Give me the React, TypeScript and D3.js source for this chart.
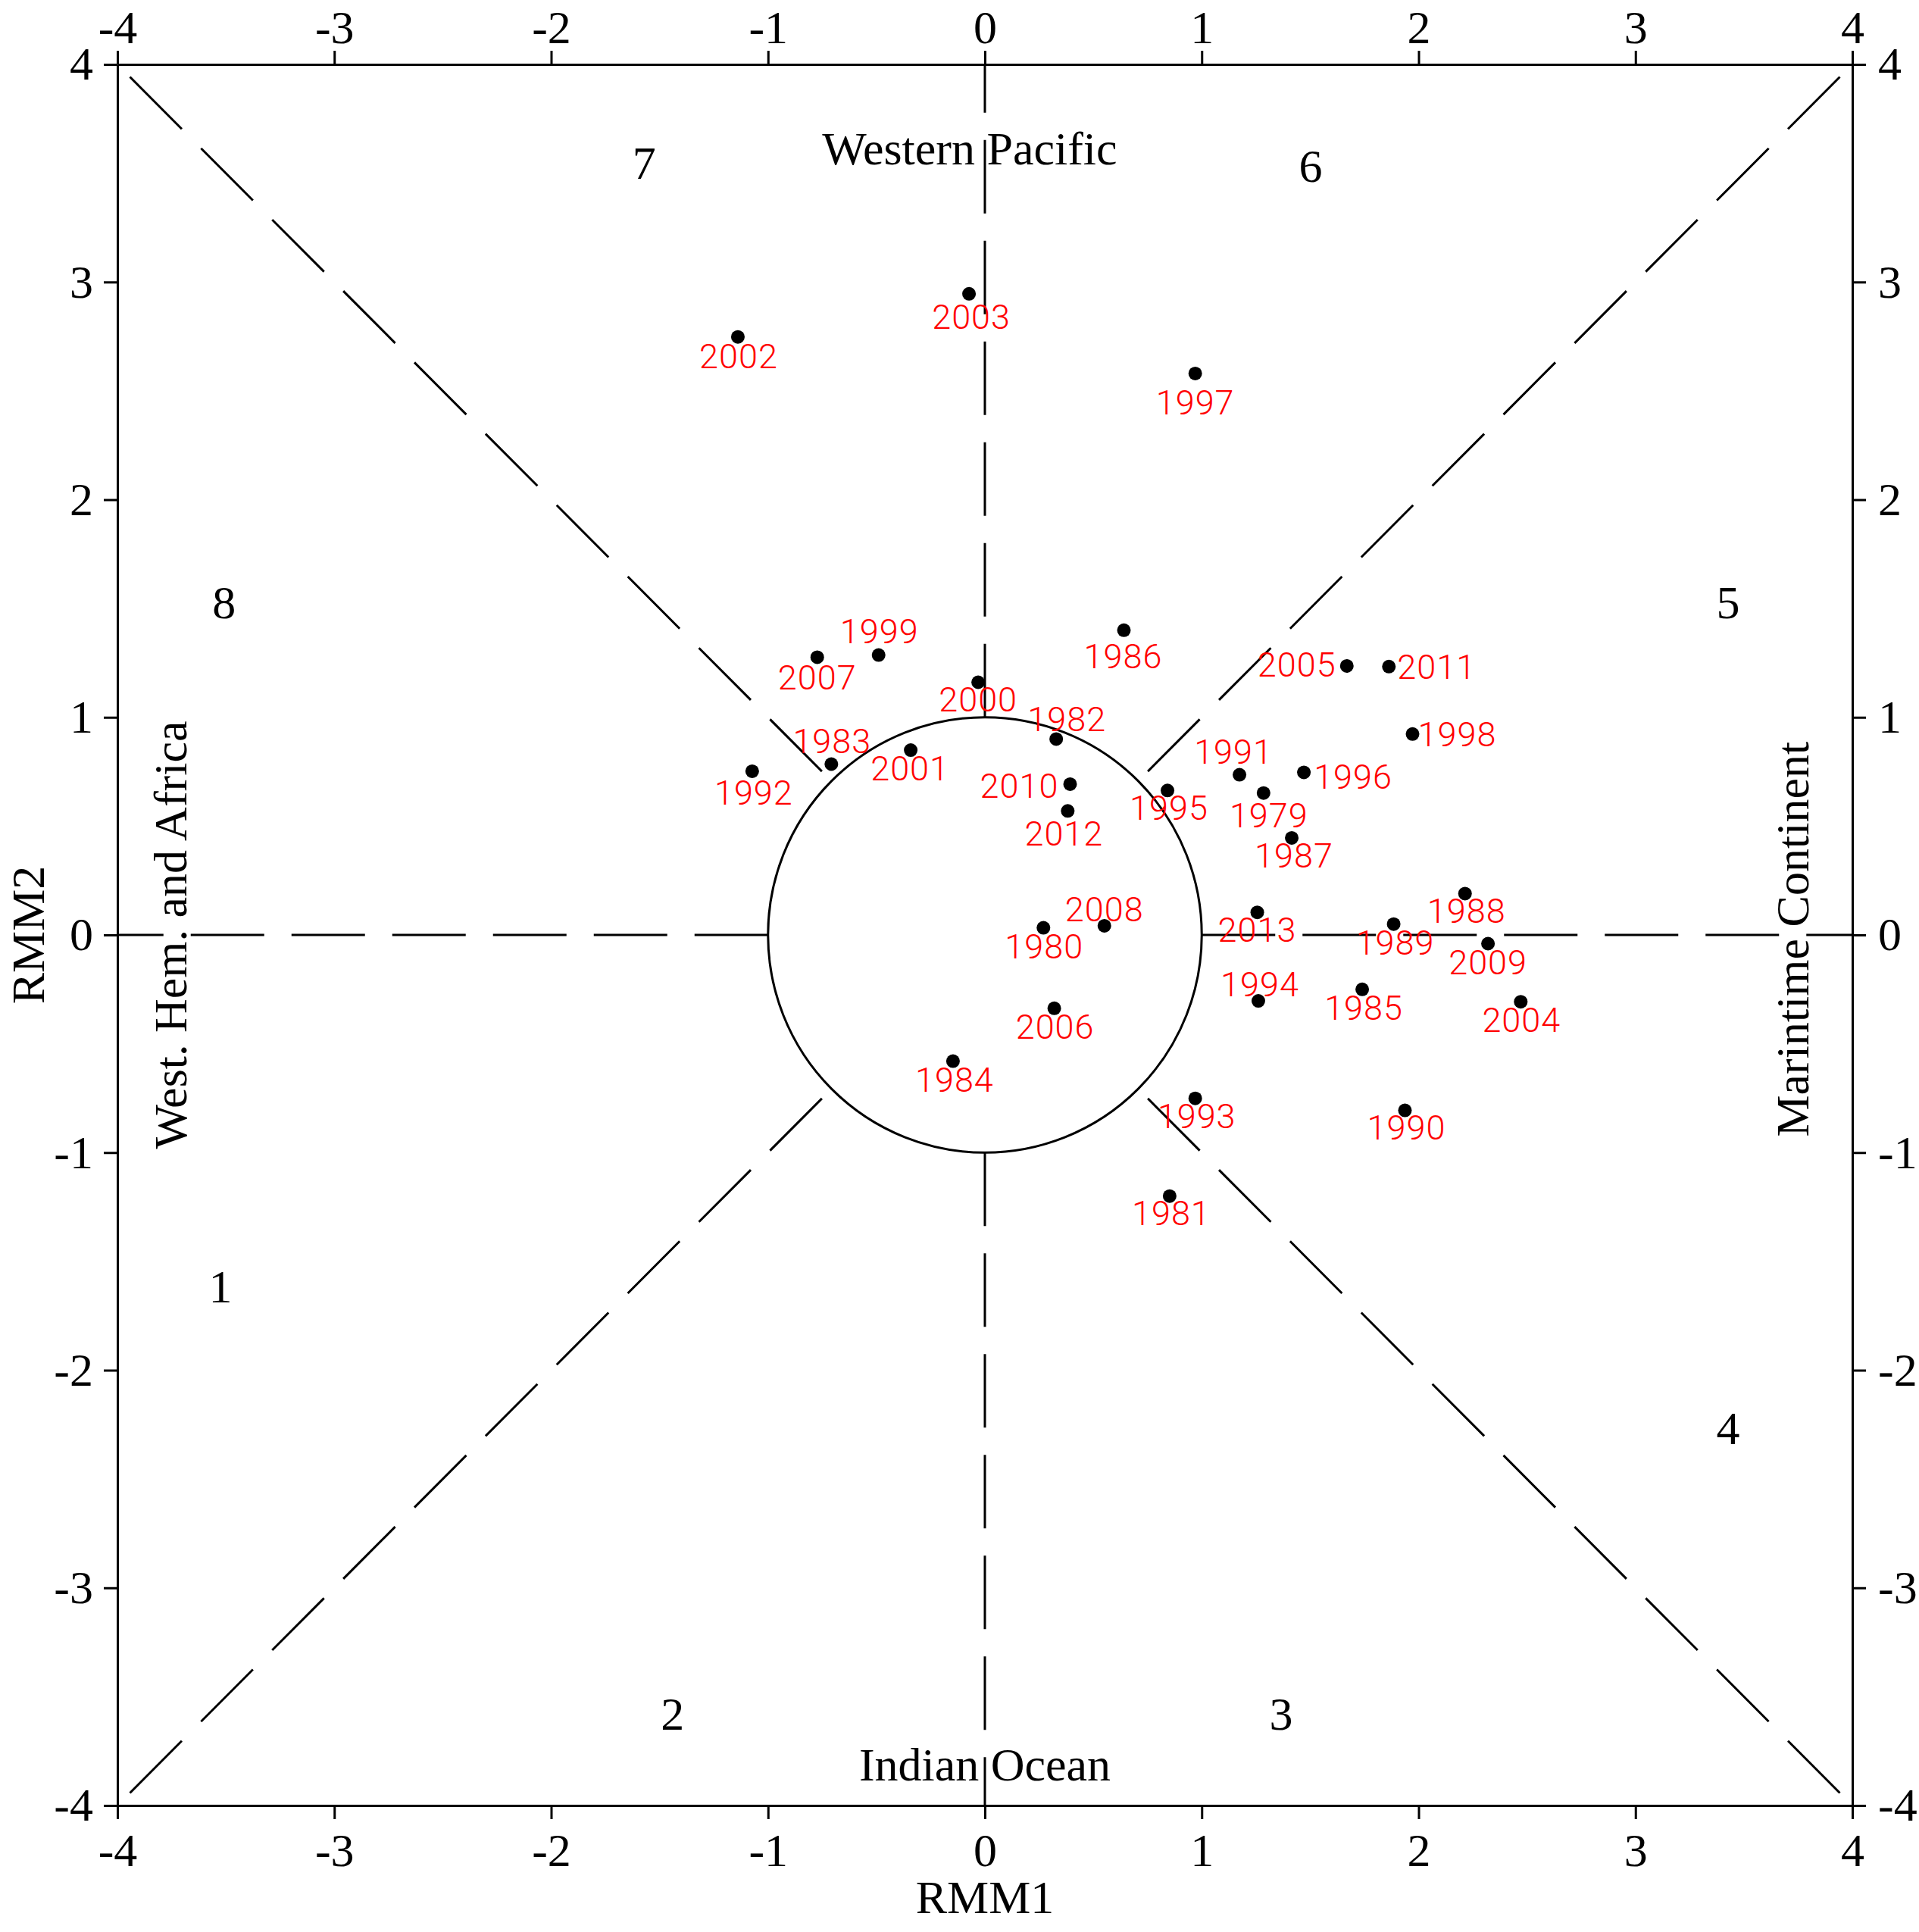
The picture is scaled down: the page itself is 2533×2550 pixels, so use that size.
import { useEffect, useRef } from 'react';
import * as d3 from 'd3';

// RMM index per year (RMM1, RMM2)
const years = [1979, 1980, 1981, 1982, 1983, 1984, 1985, 1986, 1987, 1988, 1989, 1990, 1991, 1992, 1993, 1994, 1995,
  1996, 1997, 1998, 1999, 2000, 2001, 2002, 2003, 2004, 2005, 2006, 2007, 2008, 2009, 2010, 2011, 2012, 2013];
const rmm1 = [1.285, 0.27, 0.852, 0.329, -0.708, -0.147, 1.74, 0.641, 1.415, 2.214, 1.885, 1.937, 1.174, -1.073, 0.97,
  1.261, 0.842, 1.471, 0.97, 1.972, -0.49, -0.031, -0.342, -1.139, -0.073, 2.471, 1.669, 0.32, -0.773, 0.551, 2.32,
  0.393, 1.863, 0.382, 1.256];
const rmm2 = [0.652, 0.033, -1.2, 0.9, 0.785, -0.58, -0.25, 1.4, 0.446, 0.19, 0.05, -0.806, 0.736, 0.752, -0.751,
  -0.303, 0.664, 0.747, 2.58, 0.923, 1.286, 1.161, 0.849, 2.748, 2.946, -0.307, 1.236, -0.337, 1.276, 0.042, -0.04,
  0.693, 1.233, 0.57, 0.104];

// label nudges (px) so year labels don't sit on top of each other
const labelDx = [7, 1, 2, 14, 1, 2, 2, -1, 3, 2, 2, 2, -8, 2, 2, 2, 2, 65, 0, 59, 1, 0, -1, 1, 3, 1, -66, 1, 0, 0, 0, -67, 63, -5, 0];
const labelDy = [30, 25, 23, -26, -30, 25, 24, 34, 23, 23, 25, 23, -30, 28, 24, -22, 23, 6, 38, 0, -31, 23, 24, 26, 30, 24, -2, 24, 27, -22, 25, 2, 0, 30, 23];

const ticks = [-4, -3, -2, -1, 0, 1, 2, 3, 4];

// phase numbers and where they sit
const phases = ['1', '2', '3', '4', '5', '6', '7', '8'];
const phaseX = [-3.525, -1.44, 1.366, 3.427, 3.427, 1.502, -1.571, -3.508];
const phaseY = [-1.616, -3.581, -3.581, -2.267, 1.525, 3.53, 3.547, 1.525];

const regions = ['Western Pacific', 'Indian Ocean', 'West. Hem. and Africa', 'Marintime Continent'];
const regionX = [-0.07, 0, -3.752, 3.727];
const regionY = [3.612, -3.813, 0, -0.02];
const regionRotate = [0, 0, -90, -90];

const W = 2533;
const H = 2550;
const serif = '"Liberation Serif", "Times New Roman", Times, serif';

const App = () => {
  const svgRef = useRef(null);

  useEffect(() => {
    if (!svgRef.current) return;
    const svg = d3.select(svgRef.current);
    svg.selectAll('*').remove();

    const x = d3.scaleLinear().domain([-4, 4]).range([155, 2445]);
    const y = d3.scaleLinear().domain([-4, 4]).range([2383, 85]);
    const fmt = (d) => String(d);

    const styleAxis = (g) => {
      g.selectAll('path').attr('stroke', '#000').attr('stroke-width', 3);
      g.selectAll('line').attr('stroke', '#000').attr('stroke-width', 3);
      g.selectAll('text').attr('font-family', serif).attr('font-size', 62).attr('fill', '#000');
    };

    svg.append('g').attr('transform', `translate(0,${y(-4)})`)
      .call(d3.axisBottom(x).tickValues(ticks).tickFormat(fmt).tickSize(18).tickSizeOuter(0).tickPadding(18))
      .call(styleAxis);
    svg.append('g').attr('transform', `translate(0,${y(4)})`)
      .call(d3.axisTop(x).tickValues(ticks).tickFormat(fmt).tickSize(18).tickSizeOuter(0).tickPadding(10))
      .call(styleAxis);
    svg.append('g').attr('transform', `translate(${x(-4)},0)`)
      .call(d3.axisLeft(y).tickValues(ticks).tickFormat(fmt).tickSize(18).tickSizeOuter(0).tickPadding(14))
      .call(styleAxis);
    svg.append('g').attr('transform', `translate(${x(4)},0)`)
      .call(d3.axisRight(y).tickValues(ticks).tickFormat(fmt).tickSize(18).tickSizeOuter(0).tickPadding(16))
      .call(styleAxis);

    // axis titles
    svg.append('text')
      .attr('x', x(0)).attr('y', 2525)
      .attr('text-anchor', 'middle')
      .attr('font-family', serif).attr('font-size', 62)
      .text('RMM1');
    svg.append('text')
      .attr('transform', `translate(58,${y(0)}) rotate(-90)`)
      .attr('text-anchor', 'middle')
      .attr('font-family', serif).attr('font-size', 62)
      .text('RMM2');

    // unit circle
    svg.append('ellipse')
      .attr('cx', x(0)).attr('cy', y(0))
      .attr('rx', x(1) - x(0)).attr('ry', y(0) - y(1))
      .attr('fill', 'none').attr('stroke', '#000').attr('stroke-width', 3);

    // phase dividers
    const line = d3.line().x(d => x(d[0])).y(d => y(d[1]));
    const c = Math.SQRT1_2;
    const straight = [[[1, 0], [4, 0]], [[-1, 0], [-4, 0]], [[0, 1], [0, 4]], [[0, -1], [0, -4]]];
    const diag = [[[c, c], [4, 4]], [[-c, c], [-4, 4]], [[c, -c], [4, -4]], [[-c, -c], [-4, -4]]];
    const dividers = svg.append('g').attr('fill', 'none').attr('stroke', '#000').attr('stroke-width', 3)
      .attr('stroke-dasharray', '97 36');
    dividers.selectAll('path.s').data(straight).join('path').attr('class', 's').attr('d', line);
    dividers.selectAll('path.d').data(diag).join('path').attr('class', 'd').attr('d', line)
      .attr('stroke-dashoffset', 115);

    // region names
    svg.append('g').selectAll('text').data(regions).join('text')
      .attr('transform', (d, i) => `translate(${x(regionX[i])},${y(regionY[i])}) rotate(${regionRotate[i]})`)
      .attr('dy', '0.33em')
      .attr('text-anchor', 'middle')
      .attr('font-family', serif).attr('font-size', 62)
      .text(d => d);

    // phase numbers
    svg.append('g').selectAll('text').data(phases).join('text')
      .attr('x', (d, i) => x(phaseX[i]))
      .attr('y', (d, i) => y(phaseY[i]))
      .attr('dy', '0.33em')
      .attr('text-anchor', 'middle')
      .attr('font-family', serif).attr('font-size', 62)
      .text(d => d);

    // yearly points
    svg.append('g').selectAll('circle').data(years).join('circle')
      .attr('cx', (d, i) => x(rmm1[i]))
      .attr('cy', (d, i) => y(rmm2[i]))
      .attr('r', 9)
      .attr('fill', '#000');

    svg.append('g').selectAll('text').data(years).join('text')
      .attr('x', (d, i) => x(rmm1[i]) + labelDx[i])
      .attr('y', (d, i) => y(rmm2[i]) + labelDy[i])
      .attr('dy', '0.35em')
      .attr('text-anchor', 'middle')
      .attr('font-family', 'Roboto, "Liberation Sans", sans-serif')
      .attr('font-weight', 300)
      .attr('font-size', 45)
      .attr('letter-spacing', 1)
      .attr('fill', '#ff0000')
      .text(d => String(d));
  }, []);

  return (
    <svg ref={svgRef} width={W} height={H}
      style={{ position: 'absolute', left: 0, top: 0, background: '#fff', display: 'block' }} />
  );
};

export default App;
